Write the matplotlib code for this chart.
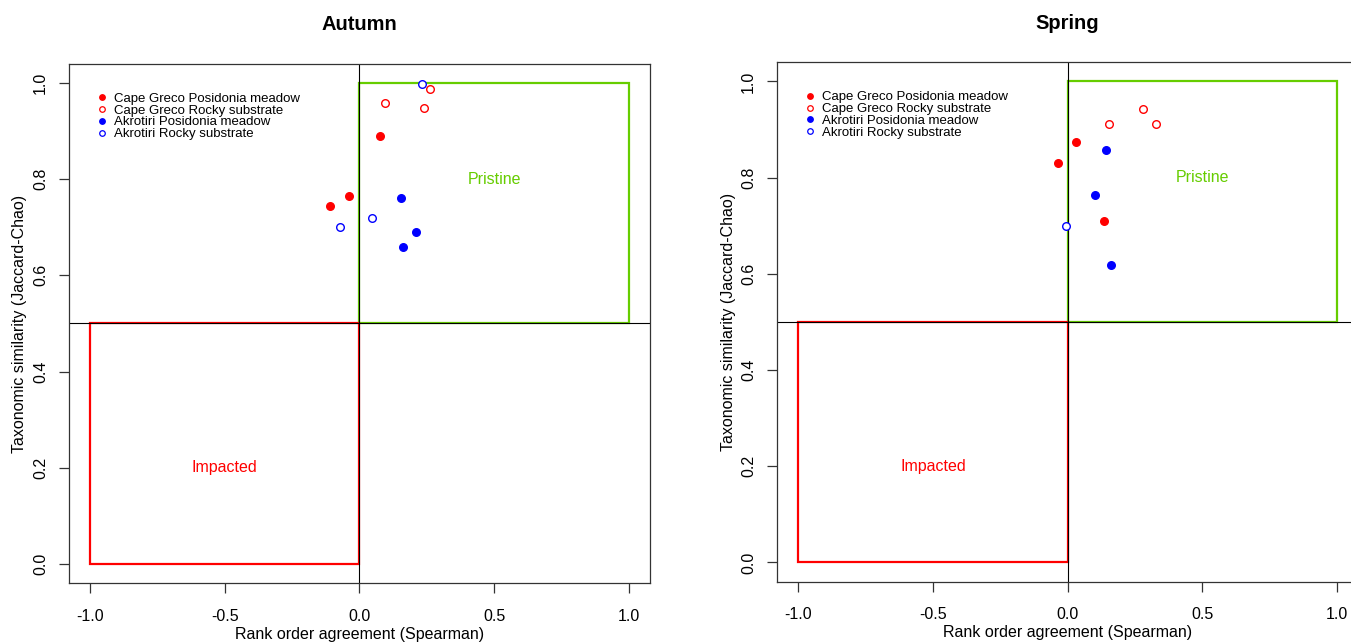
import matplotlib.pyplot as plt
from matplotlib.patches import Rectangle
from matplotlib.lines import Line2D

plt.rcParams['font.family'] = ['Liberation Sans', 'DejaVu Sans']

# Autumn survey: (Spearman rank agreement, Jaccard-Chao similarity)
autumn_cg_pos_x = [0.078, -0.040, -0.108]
autumn_cg_pos_y = [0.890, 0.766, 0.744]
autumn_cg_rock_x = [0.094, 0.264, 0.241]
autumn_cg_rock_y = [0.958, 0.988, 0.947]
autumn_ak_pos_x = [0.154, 0.209, 0.162]
autumn_ak_pos_y = [0.760, 0.691, 0.658]
autumn_ak_rock_x = [0.233, 0.046, -0.073]
autumn_ak_rock_y = [0.998, 0.720, 0.700]

# Spring survey
spring_cg_pos_x = [0.030, -0.037, 0.136]
spring_cg_pos_y = [0.873, 0.830, 0.710]
spring_cg_rock_x = [0.280, 0.155, 0.330]
spring_cg_rock_y = [0.942, 0.911, 0.911]
spring_ak_pos_x = [0.142, 0.101, 0.160]
spring_ak_pos_y = [0.857, 0.764, 0.619]
spring_ak_rock_x = [-0.006]
spring_ak_rock_y = [0.700]

labels = ["Cape Greco Posidonia meadow", "Cape Greco Rocky substrate",
          "Akrotiri Posidonia meadow", "Akrotiri Rocky substrate"]

GREEN = "#66CD00"


def panel(ax, title, series):
    # reference quadrants
    ax.add_patch(Rectangle((0, 0.5), 1, 0.5, fill=False, ec=GREEN, lw=1.6))
    ax.add_patch(Rectangle((-1, 0), 1, 0.5, fill=False, ec="red", lw=1.6))
    ax.axvline(0, color="black", lw=0.8)
    ax.axhline(0.5, color="black", lw=0.8)
    ax.text(0.5, 0.8, "Pristine", color=GREEN, fontsize=11.5,
            ha="center", va="center")
    ax.text(-0.5, 0.2, "Impacted", color="red", fontsize=11.5,
            ha="center", va="center")

    styles = [("red", True), ("red", False), ("blue", True), ("blue", False)]
    for (x, y), (c, filled) in zip(series, styles):
        ax.scatter(x, y, s=30, facecolors=c if filled else "white",
                   edgecolors=c, linewidths=1.0, zorder=3)

    handles = [Line2D([0], [0], ls="", marker="o", ms=4,
                      mfc=c if f else "white", mec=c, mew=0.9)
               for c, f in styles]
    ax.legend(handles, labels, loc="upper left", bbox_to_anchor=(0.05, 0.944),
              frameon=False, fontsize=9.5, handlelength=0.6, handletextpad=0.6,
              labelspacing=-0.04, borderaxespad=0, borderpad=0)

    ax.set_xlim(-1.08, 1.08)
    ax.set_ylim(-0.04, 1.04)
    ax.set_xticks([-1.0, -0.5, 0.0, 0.5, 1.0])
    ax.set_xticklabels(["-1.0", "-0.5", "0.0", "0.5", "1.0"])
    ax.set_yticks([0.0, 0.2, 0.4, 0.6, 0.8, 1.0])
    ax.set_yticklabels(["0.0", "0.2", "0.4", "0.6", "0.8", "1.0"],
                       rotation=90, va="center")
    ax.tick_params(direction="out", length=7, width=0.9, labelsize=11.5,
                   color="#333333")
    ax.tick_params(axis="x", pad=11.5)
    ax.tick_params(axis="y", pad=8)
    for sp in ax.spines.values():
        sp.set_linewidth(0.9)
        sp.set_color("#333333")
    ax.set_xlabel("Rank order agreement (Spearman)", fontsize=11.5, labelpad=2)
    ax.set_ylabel("Taxonomic similarity (Jaccard-Chao)", fontsize=11.5,
                  labelpad=4)
    ax.set_title(title, fontsize=14.5, fontweight="bold", pad=24)


fig = plt.figure(figsize=(13.51, 6.44), dpi=100)
ax1 = fig.add_axes([0.0509, 0.0943, 0.4303, 0.8068])
ax2 = fig.add_axes([0.5751, 0.0967, 0.4303, 0.8068])

panel(ax1, "Autumn", [(autumn_cg_pos_x, autumn_cg_pos_y),
                      (autumn_cg_rock_x, autumn_cg_rock_y),
                      (autumn_ak_pos_x, autumn_ak_pos_y),
                      (autumn_ak_rock_x, autumn_ak_rock_y)])
panel(ax2, "Spring", [(spring_cg_pos_x, spring_cg_pos_y),
                      (spring_cg_rock_x, spring_cg_rock_y),
                      (spring_ak_pos_x, spring_ak_pos_y),
                      (spring_ak_rock_x, spring_ak_rock_y)])

fig.savefig("out.png", dpi=100)
